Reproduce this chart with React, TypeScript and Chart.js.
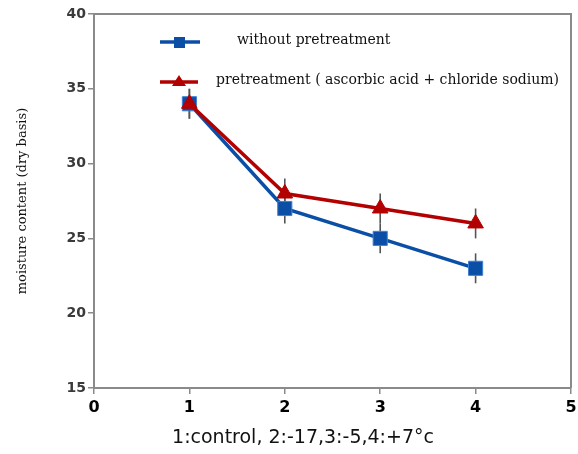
import React, { useEffect, useRef } from 'react';
import { Chart, registerables } from 'chart.js';

Chart.register(...registerables);

// ---- data ----
const xValues = [1, 2, 3, 4];
const withoutPretreatment = [34, 27, 25, 23];
const withPretreatment = [34, 28, 27, 26];
const withoutErrors = [1, 1, 1, 1];
const withErrors = [1, 1, 1, 1];
const seriesLabels = ['without pretreatment', 'pretreatment ( ascorbic acid + chloride sodium)'];
const xTitle = '1:control, 2:-17,3:-5,4:+7°c';
const yTitle = 'moisture content (dry basis)';
const xRange = [0, 5];
const yRange = [15, 40];
const xStep = 1;
const yStep = 5;

const BLUE = '#0b4ea6';
const BLUE_EDGE = '#3f82d4';
const RED = '#b30000';
const AXIS = '#8a8a8a';

const errorBarsPlugin = {
  id: 'errorBars',
  beforeDatasetsDraw(chart: any) {
    const { ctx, scales } = chart;
    ctx.save();
    ctx.strokeStyle = '#555';
    ctx.lineWidth = 1.6;
    chart.data.datasets.forEach((ds: any) => {
      (ds.data as any[]).forEach((p: any, i: number) => {
        const e = ds.errors[i];
        const px = scales.x.getPixelForValue(p.x);
        const y1 = scales.y.getPixelForValue(p.y - e);
        const y2 = scales.y.getPixelForValue(p.y + e);
        ctx.beginPath();
        ctx.moveTo(px, y1);
        ctx.lineTo(px, y2);
        ctx.stroke();
      });
    });
    ctx.restore();
  },
};

const framePlugin = {
  id: 'frame',
  beforeDatasetsDraw(chart: any) {
    const { ctx, chartArea } = chart;
    ctx.save();
    ctx.strokeStyle = AXIS;
    ctx.lineWidth = 2;
    ctx.beginPath();
    ctx.moveTo(chartArea.left, chartArea.top);
    ctx.lineTo(chartArea.right, chartArea.top);
    ctx.lineTo(chartArea.right, chartArea.bottom);
    ctx.stroke();
    ctx.restore();
  },
};

const legendPlugin = {
  id: 'innerLegend',
  afterDraw(chart: any) {
    const { ctx } = chart;
    ctx.save();
    // blue entry
    ctx.strokeStyle = BLUE;
    ctx.lineWidth = 3.5;
    ctx.beginPath();
    ctx.moveTo(160, 42);
    ctx.lineTo(200, 42);
    ctx.stroke();
    ctx.fillStyle = BLUE;
    ctx.fillRect(174, 37, 11, 11);
    // red entry
    ctx.strokeStyle = RED;
    ctx.beginPath();
    ctx.moveTo(160, 82);
    ctx.lineTo(198, 82);
    ctx.stroke();
    ctx.fillStyle = RED;
    ctx.beginPath();
    ctx.moveTo(179, 75);
    ctx.lineTo(186, 86);
    ctx.lineTo(172, 86);
    ctx.closePath();
    ctx.fill();
    // texts
    ctx.fillStyle = '#111';
    ctx.font = '14px "DejaVu Serif"';
    ctx.textBaseline = 'middle';
    ctx.textAlign = 'left';
    ctx.fillText(seriesLabels[0], 237, 40);
    ctx.fillText(seriesLabels[1], 216, 80);
    ctx.restore();
  },
};

const xTitlePlugin = {
  id: 'xTitle',
  afterDraw(chart: any) {
    const { ctx } = chart;
    ctx.save();
    ctx.fillStyle = '#111';
    ctx.font = '19px "DejaVu Sans"';
    ctx.textAlign = 'center';
    ctx.textBaseline = 'middle';
    ctx.fillText(xTitle, 303, 438);
    ctx.restore();
  },
};

export default function App() {
  const ref = useRef<HTMLCanvasElement | null>(null);

  useEffect(() => {
    if (!ref.current) return;
    const chart = new Chart(ref.current, {
      type: 'line',
      data: {
        datasets: [
          {
            label: seriesLabels[0],
            data: xValues.map((x, i) => ({ x, y: withoutPretreatment[i] })),
            errors: withoutErrors,
            borderColor: BLUE,
            backgroundColor: BLUE,
            borderWidth: 3.5,
            pointStyle: 'rect',
            pointRadius: 10,
            pointBackgroundColor: BLUE,
            pointBorderColor: BLUE_EDGE,
            pointBorderWidth: 1,
            order: 2,
          } as any,
          {
            label: seriesLabels[1],
            data: xValues.map((x, i) => ({ x, y: withPretreatment[i] })),
            errors: withErrors,
            borderColor: RED,
            backgroundColor: RED,
            borderWidth: 3.5,
            pointStyle: 'triangle',
            pointRadius: 9,
            pointBackgroundColor: RED,
            pointBorderColor: RED,
            pointBorderWidth: 1,
            order: 1,
          } as any,
        ],
      },
      options: {
        animation: false,
        responsive: false,
        devicePixelRatio: 1,
        layout: { autoPadding: false, padding: { top: 14, right: 7, left: 0, bottom: 0 } },
        plugins: {
          legend: { display: false },
          tooltip: { enabled: false },
        },
        scales: {
          x: {
            type: 'linear',
            min: xRange[0],
            max: xRange[1],
            ticks: {
              stepSize: xStep,
              color: '#000',
              font: { family: 'DejaVu Sans', size: 16, weight: 'bold' },
              padding: 4,
            },
            grid: {
              drawOnChartArea: false,
              drawTicks: true,
              tickLength: 6,
              color: AXIS,
              lineWidth: 1.5,
            },
            border: { color: AXIS, width: 2 },
            afterFit: (s: any) => {
              s.height = 66;
              s.paddingRight = 0;
              s.paddingLeft = 0;
            },
          },
          y: {
            type: 'linear',
            min: yRange[0],
            max: yRange[1],
            ticks: {
              stepSize: yStep,
              color: '#3a3a3a',
              font: { family: 'DejaVu Sans', size: 14, weight: 'bold' },
              padding: 2,
            },
            grid: {
              drawOnChartArea: false,
              drawTicks: true,
              tickLength: 6,
              color: AXIS,
              lineWidth: 1.5,
            },
            border: { color: AXIS, width: 2 },
            title: {
              display: true,
              text: yTitle,
              color: '#111',
              font: { family: 'DejaVu Serif', size: 13 },
              padding: { top: 15, bottom: 0 },
            },
            afterFit: (s: any) => {
              s.width = 94;
              s.paddingTop = 0;
              s.paddingBottom = 0;
            },
          },
        },
      } as any,
      plugins: [framePlugin, errorBarsPlugin, legendPlugin, xTitlePlugin],
    });
    return () => chart.destroy();
  }, []);

  return (
    <div style={{ position: 'absolute', left: 0, top: 0, width: 578, height: 454, background: '#fff' }}>
      <canvas ref={ref} width={578} height={454} style={{ display: 'block' }} />
    </div>
  );
}
